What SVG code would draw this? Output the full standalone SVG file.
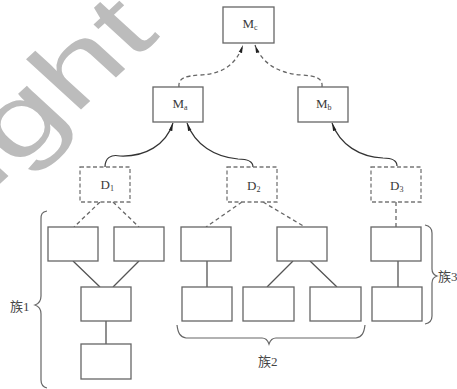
<svg xmlns="http://www.w3.org/2000/svg" width="457" height="389" viewBox="0 0 457 389">
<defs>
<style>
.box{fill:#fff;stroke:#666;stroke-width:1.3}
.dbox{fill:#fff;stroke:#777;stroke-width:1.3;stroke-dasharray:4 2.5}
.lbl{font-family:"Liberation Serif",serif;font-size:13px;fill:#3a3a3a}
.sub{font-size:8px}
.solid{fill:none;stroke:#555;stroke-width:1.3}
.dash{fill:none;stroke:#666;stroke-width:1.3;stroke-dasharray:4 3}
.arr{fill:none;stroke:#333;stroke-width:1.2}
.brace{fill:none;stroke:#666;stroke-width:1.2}
.zu{font-family:"Liberation Serif","Noto Sans CJK SC",serif;font-size:13px;fill:#444}
</style>
<marker id="ah" viewBox="0 0 10 6" refX="10" refY="3" markerWidth="8" markerHeight="5" markerUnits="userSpaceOnUse" orient="auto">
<path d="M0,0.8 L10,3 L0,5.2 Z" fill="#222"/>
</marker>
</defs>
<rect width="457" height="389" fill="#fff"/>
<text transform="matrix(0.805,-0.74,0.583,0.535,161,36)" font-family="Liberation Sans" font-size="130" fill="#bcbcbc" text-anchor="end">right</text>

<g id="connectors">
<path class="dash" d="M179,87 C178,78 185,76 200,75 C222,74 236,65 243,45" marker-end="url(#ah)"/>
<path class="dash" d="M322,87 C323,78 316,76 302,75 C280,74 262,64 255,45" marker-end="url(#ah)"/>
<path class="arr" d="M105,167 C105,158 111,154 120,156 C145,157 166,145 173,123" marker-end="url(#ah)"/>
<path class="arr" d="M253,167 C253,161 248,159 238,159 C215,157 195,145 187,123" marker-end="url(#ah)"/>
<path class="arr" d="M397,166 C397,160 392,158 383,158 C360,157 340,145 332,123" marker-end="url(#ah)"/>
<path class="dash" d="M100,202 L74,227 M113,202 L139,227 M242,202 L206,227 M263,202 L305,227"/>
<path class="dash" d="M396,202 L396,227" stroke="#aaa"/>
<path class="solid" d="M73,261 L100,287 M139,261 L113,287 M106,321 L106,344 M207,261 L207,287 M293,261 L267,287 M310,261 L337,287 M398,261 L398,287"/>
</g>

<g id="Mc"><rect class="box" x="223" y="7" width="51" height="36"/><text class="lbl" x="242.5" y="28">M<tspan class="sub" dy="2">c</tspan></text></g>
<g id="Ma"><rect class="box" x="153" y="87" width="50" height="35"/><text class="lbl" x="172.5" y="108">M<tspan class="sub" dy="2">a</tspan></text></g>
<g id="Mb"><rect class="box" x="298" y="87" width="50" height="35"/><text class="lbl" x="316" y="108">M<tspan class="sub" dy="2">b</tspan></text></g>
<g id="D1"><rect class="dbox" x="80" y="167" width="50" height="35"/><text class="lbl" x="100.5" y="189">D<tspan class="sub" dy="2">1</tspan></text></g>
<g id="D2"><rect class="dbox" x="227" y="167" width="50" height="35"/><text class="lbl" x="247" y="190">D<tspan class="sub" dy="2">2</tspan></text></g>
<g id="D3"><rect class="dbox" x="371" y="167" width="50" height="35"/><text class="lbl" x="390" y="190">D<tspan class="sub" dy="2">3</tspan></text></g>

<g id="n1"><rect class="box" x="48" y="227" width="50" height="34"/></g>
<g id="n2"><rect class="box" x="114" y="227" width="50" height="34"/></g>
<g id="n3"><rect class="box" x="81" y="287" width="50" height="34"/></g>
<g id="n4"><rect class="box" x="81" y="344" width="50" height="35"/></g>
<g id="n5"><rect class="box" x="181" y="227" width="50" height="34"/></g>
<g id="n6"><rect class="box" x="182" y="287" width="50" height="34"/></g>
<g id="n7"><rect class="box" x="277" y="227" width="50" height="34"/></g>
<g id="n8"><rect class="box" x="243" y="287" width="51" height="34"/></g>
<g id="n9"><rect class="box" x="310" y="287" width="51" height="34"/></g>
<g id="n10"><rect class="box" x="371" y="227" width="50" height="34"/></g>
<g id="n11"><rect class="box" x="372" y="287" width="50" height="34"/></g>

<g id="cluster1"><path class="brace" d="M47,211 C42,212 41,214 41,219 L41,296 C41,301 38,304 35,305 C38,306 41,309 41,314 L41,380 C41,385 43,387 47,388"/><text class="zu" x="10" y="311">族1</text></g>
<g id="cluster2"><path class="brace" d="M177,325 C178,333 180,337 186,338 L262,338 C266,338 268,341 269,344 C270,341 272,338 276,338 L356,338 C362,337 364,333 365,325"/><text class="zu" x="258" y="366">族2</text></g>
<g id="cluster3"><path class="brace" d="M425,225 C430,226 432,228 432,233 L432,269 C432,273 434,275 437,276 C434,277 432,279 432,283 L432,316 C432,321 430,323 425,324"/><text class="zu" x="438" y="281">族3</text></g>
</svg>
